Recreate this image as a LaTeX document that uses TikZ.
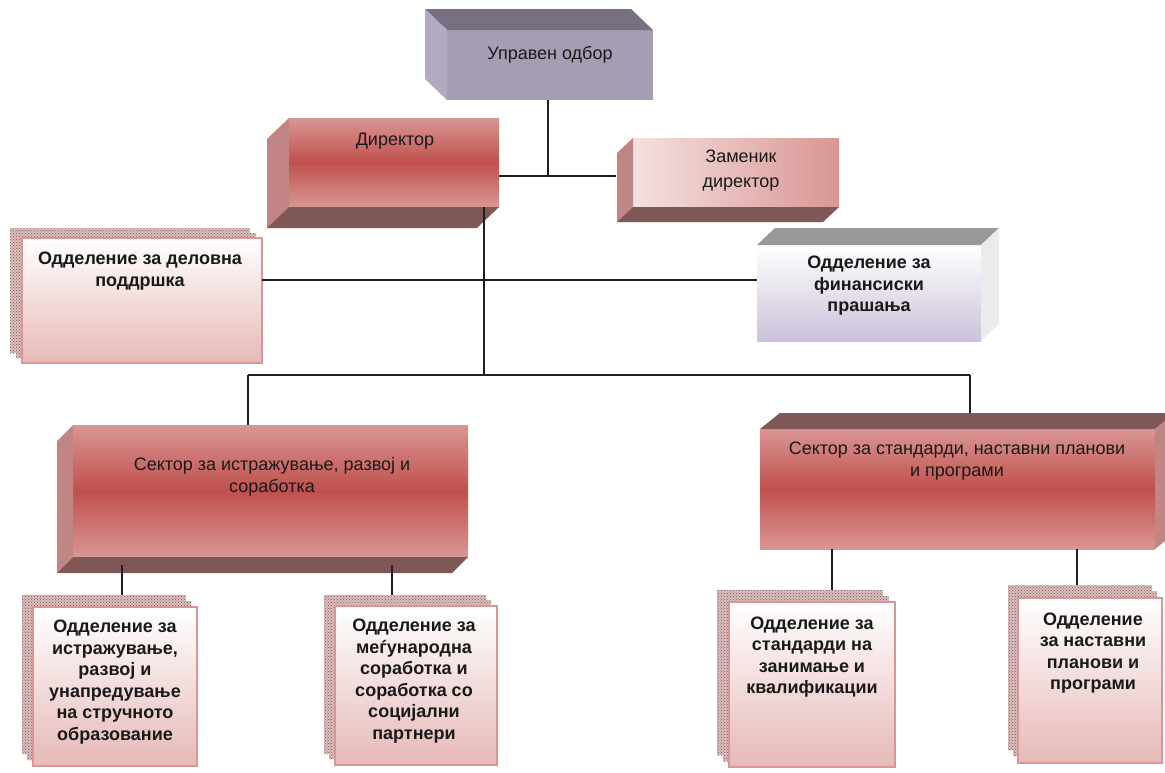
\documentclass[tikz,border=0pt]{standalone}
\usepackage{fontspec}
\setmainfont{Liberation Sans}
\usetikzlibrary{patterns,calc}
\definecolor{redmid}{HTML}{C0504D}
\definecolor{redlight}{HTML}{D99694}
\definecolor{redside}{HTML}{C08584}
\definecolor{reddark}{HTML}{7F5756}
\definecolor{pinklight}{HTML}{F4E1E0}
\definecolor{pinkbot}{HTML}{E6B9B8}
\definecolor{dotred}{HTML}{8E4A48}
\definecolor{violet}{HTML}{A69CB4}
\definecolor{violettop}{HTML}{786F81}
\definecolor{violetside}{HTML}{B3A9C1}
\definecolor{lavender}{HTML}{CCC1DA}
\definecolor{linegray}{HTML}{1E1E1E}
\begin{document}
\begin{tikzpicture}[x=1pt,y=-1pt,
    every node/.style={font=\fontsize{18}{21.5}\selectfont, text=black!90, align=center},
    face/.style 2 args={minimum width=#1pt, minimum height=#2pt, inner sep=0pt, outer sep=0pt},
    redface/.style={top color=redlight, bottom color=redlight, middle color=redmid},
    sheet/.style={top color=white, bottom color=pinkbot, draw=redlight, line width=1.2pt},
    stack/.style={preaction={fill=dotred!35!white}, pattern=crosshatch dots, pattern color=dotred},
    bold/.style={font=\fontsize{18}{21.5}\selectfont\bfseries},
    link/.style={draw=linegray, line width=1.6pt}]
      \useasboundingbox[fill=white] (0,0) rectangle (1165,772);

      % top boxes
      \node[face={206}{70}, fill=violet] (A) at (550,65) {};
      \fill[violettop] (A.north west) -- ++(-22,-21) -- ++(206,0) -- (A.north east) -- cycle;
      \fill[violetside] (A.north west) -- ++(-22,-21) -- ++(0,70) -- (A.south west) -- cycle;
      \node (At) at (550,55) {Управен одбор};

      \node[face={210}{89}, redface] (B) at (394,162.5) {};
      \fill[redside] (B.north west) -- ++(-22,21) -- ++(0,89) -- (B.south west) -- cycle;
      \fill[reddark] (B.south west) -- ++(-22,21) -- ++(210,0) -- (B.south east) -- cycle;
      \node (Bt) at (395,141) {Директор};

      \node[face={206}{69}, left color=pinklight, right color=redlight] (C) at (736,172.5) {};
      \fill[redside] (C.north west) -- ++(-16,15) -- ++(0,69) -- (C.south west) -- cycle;
      \fill[reddark] (C.south west) -- ++(-16,15) -- ++(206,0) -- (C.south east) -- cycle;
      \node[font=\fontsize{18}{25}\selectfont] (Ct) at (741,171) {Заменик\\директор};

      % departments
      \fill[stack] (10,228) rectangle (250,353);
      \fill[stack] (16,233) rectangle (256,358);
      \node[face={240}{125}, sheet] (D) at (142,300.5) {};
      \node[bold] (Dt) at (140,271) {Одделение за деловна\\поддршка};

      \node[face={224}{96}, top color=white, bottom color=lavender] (E) at (869,293) {};
      \fill[black!40] (E.north west) -- ++(18,-17) -- ++(224,0) -- (E.north east) -- cycle;
      \fill[black!8] (E.north east) -- ++(18,-17) -- ++(0,96) -- (E.south east) -- cycle;
      \node[bold] (Et) at (869,286) {Одделение за\\финансиски\\прашања};

      % sectors
      \node[face={395}{132}, redface] (F) at (270.5,491) {};
      \fill[redside] (F.north west) -- ++(-16,16) -- ++(0,132) -- (F.south west) -- cycle;
      \fill[reddark] (F.south west) -- ++(-16,16) -- ++(395,0) -- (F.south east) -- cycle;
      \node (Ft) at (272,477) {Сектор за истражување, развој и\\соработка};

      \node[face={395}{120}, redface] (G) at (957.5,489) {};
      \fill[reddark] (G.north west) -- ++(20,-16) -- ++(395,0) -- (G.north east) -- cycle;
      \fill[redside] (G.north east) -- ++(20,-16) -- ++(0,120) -- (G.south east) -- cycle;
      \node (Gt) at (957,461) {Сектор за стандарди, наставни планови\\и програми};

      % units
      \fill[stack] (22,595) rectangle (186,754);
      \fill[stack] (27,601) rectangle (191,760);
      \node[face={164}{159}, sheet] (H) at (115,686.5) {};
      \node[bold] (Ht) at (115,682) {Одделение за\\истражување,\\развој и\\унапредување\\на стручното\\образование};

      \fill[stack] (324,595) rectangle (486,754);
      \fill[stack] (329,600) rectangle (491,759);
      \node[face={162}{159}, sheet] (I) at (416,685.5) {};
      \node[bold] (It) at (414,681) {Одделение за\\меѓународна\\соработка и\\соработка со\\социјални\\партнери};

      \fill[stack] (717,590) rectangle (883,755);
      \fill[stack] (723,596) rectangle (889,761);
      \node[face={166}{165}, sheet] (J) at (812,684.5) {};
      \node[bold] (Jt) at (812,657) {Одделение за\\стандарди на\\занимање и\\квалификации};

      \fill[stack] (1008,585) rectangle (1152,750);
      \fill[stack] (1013,591) rectangle (1157,756);
      \node[face={144}{165}, sheet] (K) at (1090,680.5) {};
      \node[bold] (Kt) at (1093,653) {Одделение\\за наставни\\планови и\\програми};

      % connectors
      \coordinate (j1) at (548,176);
      \coordinate (j2) at (484,375);
      \coordinate (j3) at (484,280);
      \coordinate (j4) at (248,375);
      \coordinate (j5) at (970,375);
      \coordinate (h) at (122,595);
      \coordinate (i) at (392,595);
      \coordinate (j) at (832,590);
      \coordinate (k) at (1077,585);

      \draw[link] (A.south -| j1) -- (j1);
      \draw[link] (B.east |- j1) -- ($(C.west |- j1)+(-17,0)$);
      \draw[link] (j2 |- B.south) -- (j2);
      \draw[link] (D.east |- j3) -- (E.west |- j3);
      \draw[link] (j4) -- (j5);
      \draw[link] (j4) -- (j4 |- F.north);
      \draw[link] (j5) -- ($(j5 |- G.north)+(0,-16)$);
      \draw[link] ($(F.south -| h)+(0,8)$) -- (h);
      \draw[link] ($(F.south -| i)+(0,8)$) -- (i);
      \draw[link] (G.south -| j) -- (j);
      \draw[link] (G.south -| k) -- (k);
    \end{tikzpicture}
\end{document}
